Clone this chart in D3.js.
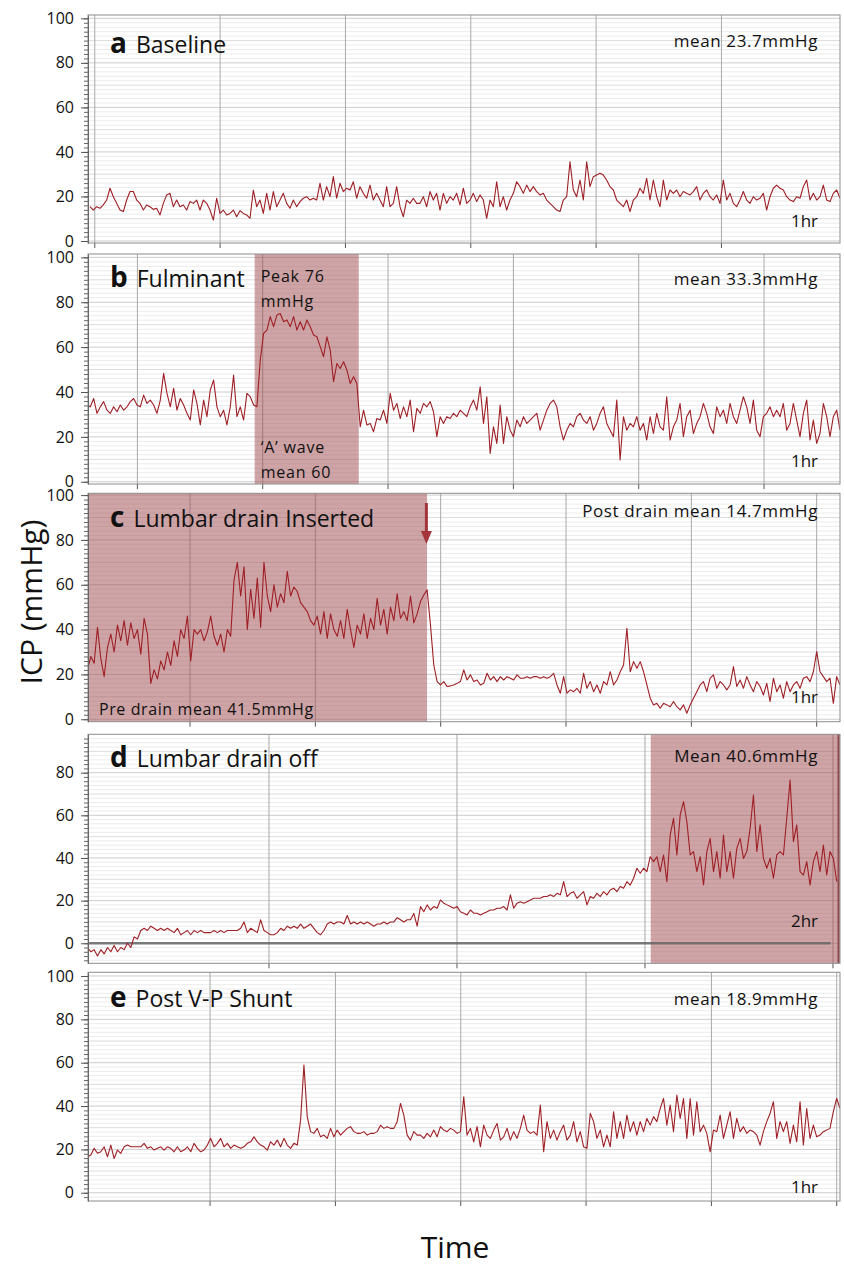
<!DOCTYPE html>
<html>
<head>
<meta charset="utf-8">
<script src="https://cdn.jsdelivr.net/npm/d3@7"></script>
<style>
body { margin: 0; background: #fff; }
svg text { font-family: "Open Sans", "Noto Sans", sans-serif; fill: #111; }
</style>
</head>
<body>
<svg id="chart" width="844" height="1268"></svg>
<script>
// panel labels and notes
const panelLetters = ["a", "b", "c", "d", "e"];
const panelTitles = ["Baseline", "Fulminant", "Lumbar drain Inserted", "Lumbar drain off", "Post V-P Shunt"];
const meanLabels = ["mean 23.7mmHg", "mean 33.3mmHg", "Post drain mean 14.7mmHg", "Mean 40.6mmHg", "mean 18.9mmHg"];
const spanLabels = ["1hr", "1hr", "1hr", "2hr", "1hr"];
const spanMinutes = [60, 60, 60, 120, 60];
const yTicks = [[0, 20, 40, 60, 80, 100], [0, 20, 40, 60, 80, 100], [0, 20, 40, 60, 80, 100], [0, 20, 40, 60, 80], [0, 20, 40, 60, 80, 100]];
// first time gridline (minutes) and spacing
const gridFirst = [0.5, 3.9, 8.1, 28.8, 9.7];
const gridStep = [10, 10, 10, 30, 10];
// shaded windows, minutes
const shadeB = [13.3, 21.6];
const shadeC = [0, 27.05];
const shadeD = [89.8, 120];
const drainMinute = 27.0;

// ICP traces (mmHg)
const icpA = [15.4,13.9,15.4,14.7,16.2,18.4,23.7,19.9,16.9,13.9, 13.2,18.4,22.2,22.2,18.4,16.9,13.9,16.2,15.4,14.2,
  14.7,11.7,16.9,20.7,21.4,15.4,18.4,15.4,16.2,13.9, 17.7,16.9,18.4,13.9,18.4,16.9,13.9,9.4,19.2,12.4,
  13.9,11.7,12.4,13.9,10.9,13.6,12.4,11.7,10.2,22.9, 15.4,18.4,12.4,21.4,13.9,22.2,15.4,18.4,21.4,16.9,
  14.7,18.4,15.4,17.7,19.2,19.9,18.4,19.2,18.4,25.9, 18.4,24.4,19.9,28.9,19.2,25.9,22.2,23.7,22.9,26.6,
  19.2,24.4,21.4,19.2,25.1,18.4,21.4,18.4,15.4,24.4, 15.4,16.9,24.4,15.4,10.9,18.4,16.9,19.2,16.9,
  16.9,19.9,15.4,22.2,18.4,21.4,13.9,21.4,16.9,19.9, 18.4,21.4,16.2,23.7,16.9,18.4,21.4,17.7,20.7,18.4,
  10.2,18.4,15.4,26.6,15.4,19.9,13.9,18.4,21.4,26.6, 24.4,21.4,25.1,22.2,24.4,22.2,20.7,21.4,18.4,16.9,
  15.4,13.9,13.2,18.4,19.9,35.6,22.9,19.9,27.4,18.4, 35.6,24.4,28.9,29.6,30.4,29.6,27.4,24.4,22.9,18.4,
  16.9,15.4,18.4,13.2,18.4,19.9,23.7,21.4,28.1,18.4, 27.4,19.9,15.4,27.4,18.4,22.9,21.4,22.9,19.9,22.2,
  21.4,20.7,22.2,24.4,18.4,21.4,22.9,19.9,18.4,20.7, 16.9,27.4,18.4,21.4,16.9,15.4,18.4,22.2,18.4,16.9,
  19.9,18.4,19.2,21.4,13.9,19.9,23.7,25.1,23.7,22.9, 19.9,18.4,17.7,19.9,19.2,24.4,27.4,18.4,21.4,18.4,
  19.9,25.1,18.4,17.7,21.4,22.9,19.2];

const icpB = [34.2,33.4,37.1,30.5,33.4,35.7,31.9,30.5,33.4,31.2, 34.2,31.9,33.4,35.7,37.1,34.2,33.4,38.6,34.9,36.4,
  34.2,30.5,36.4,48.3,39.4,33.4,41.6,31.9,37.1,34.2, 30.5,27.5,40.9,34.9,25.3,36.4,29.0,40.9,45.3,33.4,
  29.0,31.9,25.3,33.4,47.5,29.0,33.4,27.5,39.4,37.9, 34.2,33.4,54.2,66.1,67.6,73.6,69.1,74.3,75.0,71.3,
  72.1,69.1,73.6,67.6,71.3,67.6,72.1,69.1,65.4,64.6, 60.2,55.7,64.6,58.7,44.6,52.7,50.5,53.5,49.8,43.8,
  46.8,43.8,24.5,31.9,25.3,26.0,22.3,28.2,27.5,31.9, 26.0,39.4,31.9,34.9,28.2,33.4,29.0,36.4,22.3,32.7,
  30.5,34.9,33.4,35.7,31.2,20.1,29.0,26.0,29.0,28.2, 30.5,29.0,31.9,30.5,29.0,33.4,36.4,31.9,42.3,26.0,
  37.9,12.6,24.5,17.1,34.2,17.1,29.0,23.0,20.1,27.5, 24.5,29.0,26.0,27.5,29.0,30.5,23.0,27.5,31.9,34.9,
  36.4,33.4,24.5,18.6,23.0,26.0,24.5,29.0,30.5,27.5, 26.0,29.0,23.0,26.0,30.5,33.4,26.0,23.0,20.1,36.4,
  9.7,29.0,23.0,26.0,24.5,29.0,23.0,26.0,18.6,29.0, 21.5,30.5,24.5,23.0,37.9,18.6,24.5,27.5,34.9,20.1,
  29.0,31.9,21.5,26.0,29.0,34.9,30.5,24.5,21.5,33.4, 29.0,31.9,26.0,34.9,29.0,26.0,31.9,37.9,33.4,26.0,
  36.4,23.0,20.1,29.0,30.5,33.4,29.0,31.9,29.0,34.9, 23.0,26.0,34.9,27.5,20.1,30.5,36.4,18.6,27.5,17.1,
  21.5,34.9,29.0,20.1,29.0,31.9,23.0];

const icpC = [22,28,25,41,27,19,32,38,30,42, 35,44,33,43,36,40,29,45,38,16,
  22,18,26,22,30,24,35,28,40,36, 46,26,40,38,40,35,39,46,37,33,
  38,30,40,37,62,70,55,68,40,58, 45,63,41,70,55,48,60,50,56,52,
  66,55,59,57,52,50,48,44,42,46, 38,48,36,47,40,37,44,36,49,40,
  32,42,38,47,36,45,40,54,42,49, 38,50,44,56,45,48,44,55,43,47,
  52.5,55.4,57.7,42.1,24.2,16.8,15.3,16.8,14.6,14.9, 15.3,16.0,16.8,22.0,17.5,19.8,16.8,17.5,15.3,16.0,
  20.5,17.5,19.0,16.8,19.0,17.5,19.0,18.3,17.5,19.8, 18.3,18.3,19.0,18.3,19.0,19.0,18.3,19.0,18.3,19.0,
  20.5,15.3,11.6,19.0,11.6,13.1,12.3,13.8,11.6,20.5, 13.8,16.8,12.3,15.3,11.6,16.8,15.3,21.2,15.3,17.5,
  21.2,24.2,40.6,21.2,25.7,22.7,25.7,21.2,15.3,9.4, 6.4,7.1,4.9,7.1,6.4,5.6,7.9,5.6,4.2,6.4,
  2.7,6.4,9.4,12.3,15.3,16.8,12.3,18.3,19.8,13.8, 16.8,15.3,13.1,15.3,23.5,14.6,17.5,13.8,19.0,15.3,
  12.3,16.8,14.6,10.8,16.0,7.9,18.3,12.3,15.3,9.4, 16.8,12.3,15.3,16.8,13.8,18.3,19.0,16.8,21.2,30.2,
  21.2,19.0,16.8,18.3,7.1,19.0,15.3];

const icpD = [-2,-4,-3,-6,-3,-5,-2,-4,-1,-4, -2,-3,0,-2,3,2,6,7,6,8,
  7,6,7,6,7,6,5,7,4,5, 6,4,6,5,6,5,5,5,6,5,
  6,5,6,6,6,6,7,10,5,7, 6,5,11,6,5,4,4,5,7,6,
  8,7,8,7,9,7,8,9,7,5, 4,6,9,10,9,10,10,9,13,9,
  10,9,10,9,10,9,8,9,9,10, 9,10,10,12,11,10,11,11,14,8,
  17.2,14.8,18.0,15.6,17.2,16.4,20.3,18.8,18.0,17.2, 16.4,17.2,14.8,14.1,13.3,15.6,14.1,14.1,13.3,14.1,
  14.8,15.6,15.6,16.4,16.4,17.2,15.6,22.7,16.4,18.8, 19.5,18.8,19.5,20.3,21.1,21.1,21.1,21.9,21.9,22.7,
  21.9,23.4,22.7,28.9,21.9,23.4,24.2,21.1,22.7,24.2, 18.0,21.9,21.1,23.4,21.9,24.2,22.7,25.0,25.8,24.2,
  26.6,25.8,28.9,27.3,30.5,35.2,32.8,35.2,33.6,40.6, 38.3,40.6,33.6,41.4,28.9,50.8,58.6,41.4,60.2,66.4,
  57.0,41.4,43.0,33.6,40.6,27.3,43.0,49.2,33.6,43.0, 30.5,50.8,33.6,43.0,30.5,44.5,49.2,39.8,43.0,53.9,
  69.5,43.0,55.5,39.8,35.2,39.8,30.5,41.4,43.0,41.4, 58.6,76.6,47.7,55.5,33.6,32.0,38.3,27.3,38.3,43.0,
  33.6,46.1,32.0,43.0,39.8,28.9];

const icpE = [16.6,17.4,20.5,18.2,18.9,21.2,16.6,22.0,15.8,19.7, 18.2,21.2,22.0,21.2,21.2,21.2,21.2,22.8,20.5,21.2,
  19.7,20.5,21.2,19.7,21.2,20.5,18.9,21.2,18.9,19.7, 21.2,18.9,22.8,20.5,18.9,19.7,22.0,25.1,21.2,22.8,
  25.1,21.2,22.8,20.5,22.0,21.2,20.5,21.2,22.8,23.5, 25.8,23.5,22.0,21.2,19.7,23.5,22.0,24.3,21.2,25.1,
  22.0,20.5,22.8,22.0,33.5,58.9,35.0,28.2,27.4,29.7, 25.8,26.6,25.1,29.7,25.8,28.9,26.6,28.2,29.7,30.5,
  28.2,27.4,27.4,28.2,26.6,27.4,27.4,28.2,31.2,29.7, 30.5,29.7,29.7,32.8,41.2,35.8,26.6,24.3,28.2,26.6,
  26.6,25.1,27.4,25.8,28.9,25.8,30.5,28.9,28.2,29.7, 28.9,27.4,28.2,44.3,26.6,29.7,23.5,30.5,21.2,31.2,
  26.6,25.1,28.9,32.0,24.3,25.8,29.7,24.3,28.2,25.1, 29.7,35.8,28.9,27.4,28.2,26.6,40.5,18.9,32.8,25.1,
  28.9,24.3,28.2,31.2,24.3,26.6,32.8,23.5,28.2,21.2, 20.5,36.6,32.8,25.1,28.9,21.2,26.6,21.2,37.4,25.1,
  32.8,25.1,35.8,28.2,32.8,26.6,32.8,28.2,34.3,31.2, 35.1,32.8,38.9,43.5,31.2,40.5,28.2,45.1,34.3,43.5,
  25.1,43.5,26.6,42.0,28.2,31.2,27.4,18.9,28.9,28.2, 35.8,25.1,31.2,37.4,25.1,34.3,28.2,30.5,27.4,28.9,
  28.2,26.6,22.0,28.2,32.8,36.6,42.0,25.1,32.8,28.2, 32.8,22.8,31.2,23.5,42.0,22.0,38.9,25.1,31.2,25.8,
  26.6,28.2,28.9,29.7,37.4,43.5,38.9];

const traces = [icpA, icpB, icpC, icpD, icpE];

// layout
const left = 88, right = 840;
const panels = [
  {top: 15, bottom: 243, lo: -0.9, hi: 101.5, trace: [90, 840], title: 53.3, note: 46.7, span: 226.7},
  {top: 254, bottom: 484, lo: -1, hi: 101.5, trace: [87, 840], title: 286.7, note: 285, span: 466.7},
  {top: 493.3, bottom: 721.7, lo: -1.1, hi: 100.8, trace: [87.5, 840], title: 526.7, note: 516.7, span: 703.3},
  {top: 734.3, bottom: 963.3, lo: -9.4, hi: 98, trace: [87.5, 836.7], title: 766.7, note: 761.7, span: 926.7},
  {top: 972.3, bottom: 1201, lo: -3.8, hi: 101.7, trace: [87.5, 840], title: 1006.7, note: 1005, span: 1193.3}
];

const svg = d3.select('#chart');
const defs = svg.append('defs');
const traceColor = "#9e1f25";
const shadeColor = "#a04a4e";

panels.forEach((p, i) => {
  const y = d3.scaleLinear().domain([p.lo, p.hi]).range([p.bottom, p.top]);
  const x = d3.scaleLinear().domain([0, spanMinutes[i]]).range([left, right]);
  const g = svg.append('g');

  defs.append('clipPath').attr('id', 'clip' + i)
    .append('rect').attr('x', left).attr('y', p.top).attr('width', right - left).attr('height', p.bottom - p.top);

  // horizontal grid every 2 mmHg
  const minor = d3.range(Math.ceil(p.lo / 2) * 2, p.hi, 2);
  g.selectAll('line.hgrid').data(minor).join('line')
    .attr('class', 'hgrid')
    .attr('x1', left).attr('x2', right)
    .attr('y1', d => y(d)).attr('y2', d => y(d))
    .attr('stroke', d => d % 20 === 0 ? '#cdcdcd' : (d % 10 === 0 ? '#dcdcdc' : '#ececec'))
    .attr('stroke-width', 1);

  // time gridlines
  const tv = d3.range(gridFirst[i], spanMinutes[i] + 0.001, gridStep[i]);
  g.append('g').attr('transform', `translate(0,${p.bottom})`)
    .call(d3.axisBottom(x).tickValues(tv).tickSize(-(p.bottom - p.top)).tickFormat(''))
    .call(a => a.select('.domain').remove())
    .call(a => a.selectAll('line').attr('stroke', '#a9a9a9').attr('stroke-width', 1));
  g.append('g').attr('transform', `translate(0,${p.bottom})`)
    .call(d3.axisBottom(x).tickValues(tv).tickSize(5).tickFormat(''))
    .call(a => a.select('.domain').remove())
    .call(a => a.selectAll('line').attr('stroke', '#555'));

  // shaded windows
  let shade = null;
  if (i === 1) shade = shadeB;
  if (i === 2) shade = shadeC;
  if (i === 3) shade = shadeD;
  if (shade) {
    g.append('rect')
      .attr('x', x(shade[0])).attr('y', p.top)
      .attr('width', x(shade[1]) - x(shade[0])).attr('height', p.bottom - p.top)
      .attr('fill', shadeColor).attr('fill-opacity', 0.5);
  }
  if (i === 3) {
    g.append('line')
      .attr('x1', x(shadeD[1]) - 1.5).attr('x2', x(shadeD[1]) - 1.5)
      .attr('y1', p.top).attr('y2', p.bottom)
      .attr('stroke', '#8e4a4d').attr('stroke-width', 2);
    // zero reference line
    g.append('line')
      .attr('x1', left).attr('x2', x(118.5))
      .attr('y1', y(0)).attr('y2', y(0))
      .attr('stroke', '#666').attr('stroke-width', 2.5).attr('stroke-opacity', 0.85);
  }

  // trace
  const vals = traces[i];
  const xi = d3.scaleLinear().domain([0, vals.length - 1]).range(p.trace);
  const line = d3.line().x((d, j) => xi(j)).y(d => y(d));
  g.append('path').datum(vals)
    .attr('d', line)
    .attr('fill', 'none')
    .attr('stroke', traceColor)
    .attr('stroke-width', 1.1)
    .attr('stroke-linejoin', 'round')
    .attr('clip-path', `url(#clip${i})`);

  // frame
  g.append('rect')
    .attr('x', left).attr('y', p.top)
    .attr('width', right - left).attr('height', p.bottom - p.top)
    .attr('fill', 'none').attr('stroke', '#8c8c8c').attr('stroke-width', 1);

  // y axis: minor ticks then labelled ticks
  g.append('g').attr('transform', `translate(${left},0)`)
    .call(d3.axisLeft(y).tickValues(minor).tickSize(4).tickFormat(''))
    .call(a => a.select('.domain').remove())
    .call(a => a.selectAll('line').attr('stroke', '#666'));
  g.append('g').attr('transform', `translate(${left},0)`)
    .call(d3.axisLeft(y).tickValues(yTicks[i]).tickSize(7).tickSizeOuter(0).tickPadding(7))
    .call(a => a.select('.domain').attr('stroke', '#666'))
    .call(a => a.selectAll('line').attr('stroke', '#555'))
    .call(a => a.selectAll('text').style('font-size', '16px').style('font-family', '"Open Sans", sans-serif').attr('fill', '#111'));

  // titles
  const t = g.append('text').attr('x', 110).attr('y', p.title);
  t.append('tspan').text(panelLetters[i]).style('font-weight', 700).style('font-size', '28px');
  t.append('tspan').attr('dx', 9).text(panelTitles[i]).style('font-size', '23px');

  g.append('text').attr('x', 818).attr('y', p.note).attr('text-anchor', 'end')
    .style('font-size', '17px').style('letter-spacing', '0.6px').text(meanLabels[i]);
  g.append('text').attr('x', 818).attr('y', p.span).attr('text-anchor', 'end')
    .style('font-size', '17px').text(spanLabels[i]);

  if (i === 1) {
    const notes = [["Peak 76", 281.7], ["mmHg", 306.7], ["\u2018A\u2019 wave", 453.3], ["mean 60", 478.3]];
    notes.forEach(n => {
      g.append('text').attr('x', x(shadeB[0]) + 6).attr('y', n[1])
        .style('font-size', '16px').style('letter-spacing', '0.8px').text(n[0]);
    });
  }
  if (i === 2) {
    g.append('text').attr('x', 99).attr('y', 715)
      .style('font-size', '16px').style('letter-spacing', '0.6px').text("Pre drain mean 41.5mmHg");
    // drain arrow
    const ax = x(drainMinute);
    g.append('line').attr('x1', ax).attr('x2', ax).attr('y1', 503).attr('y2', 533)
      .attr('stroke', '#a3343a').attr('stroke-width', 3);
    g.append('path')
      .attr('d', `M${ax - 5.5},531 L${ax + 5.5},531 L${ax},544 Z`)
      .attr('fill', '#a3343a');
  }
});

// axis titles
svg.append('text')
  .attr('transform', 'translate(42,602) rotate(-90)')
  .attr('text-anchor', 'middle')
  .style('font-size', '30px')
  .text('ICP (mmHg)');

svg.append('text')
  .attr('x', 455).attr('y', 1258)
  .attr('text-anchor', 'middle')
  .style('font-size', '30px')
  .text('Time');
</script>
</body>
</html>
